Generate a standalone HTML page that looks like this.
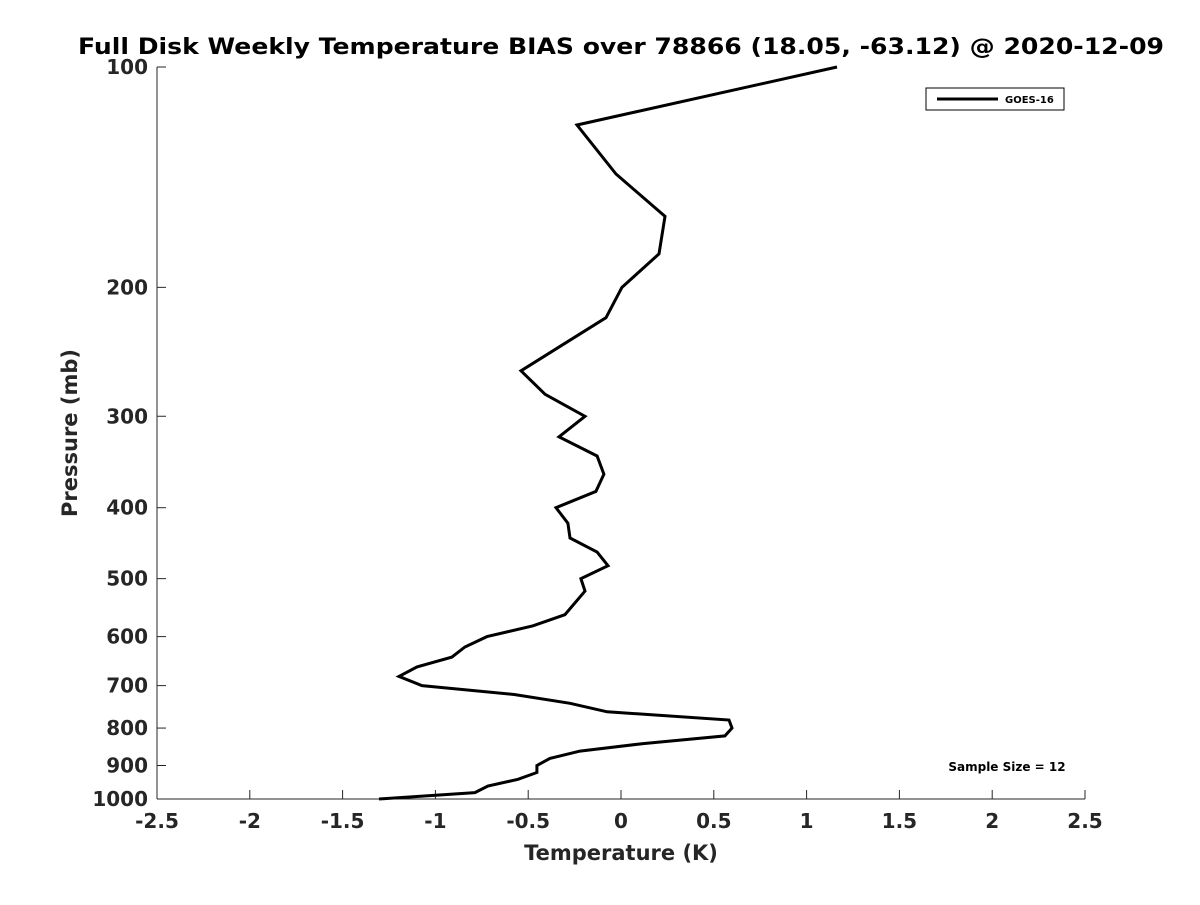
<!DOCTYPE html>
<html><head><meta charset="utf-8"><style>
html,body{margin:0;padding:0;background:#fff;}
svg text{font-family:"DejaVu Sans","Liberation Sans",sans-serif;font-weight:bold;fill:#262626;}
</style></head><body>
<svg id="chart" width="1200" height="900" xmlns="http://www.w3.org/2000/svg">
<rect width="1200" height="900" fill="#fff"/>
<text x="621" y="54" text-anchor="middle" font-size="22" textLength="1086" lengthAdjust="spacingAndGlyphs" style="fill:#000">Full Disk Weekly Temperature BIAS over 78866 (18.05, -63.12) @ 2020-12-09</text>
<g id="axes"></g>
<g id="series"></g>
<g>
<rect x="926" y="88" width="138" height="22" fill="#fff" stroke="#000" stroke-width="1"/>
<line x1="937" y1="99" x2="998" y2="99" stroke="#000" stroke-width="3"/>
<text x="1005" y="103" font-size="10" style="fill:#000">GOES-16</text>
</g>
<text x="1007" y="771" text-anchor="middle" font-size="12" style="fill:#000">Sample Size = 12</text>
<text x="621" y="860" text-anchor="middle" font-size="21">Temperature (K)</text>
<text transform="translate(77,433) rotate(-90)" text-anchor="middle" font-size="21">Pressure (mb)</text>
</svg>
<script>
const xTicks = [-2.5,-2,-1.5,-1,-0.5,0,0.5,1,1.5,2,2.5];
const xTickLabels = ["-2.5","-2","-1.5","-1","-0.5","0","0.5","1","1.5","2","2.5"];
const yTicks = [100,200,300,400,500,600,700,800,900,1000];
const yTickLabels = ["100","200","300","400","500","600","700","800","900","1000"];
const pressures = [100,120,140,160,180,200,220,260,280,300,320,340,360,380,400,420,440,460,480,500,520,560,580,600,620,640,660,680,700,720,740,760,780,800,820,840,860,880,900,920,940,960,980,1000];
const biasGoes16 = [1.164,-0.237,-0.027,0.237,0.205,0.005,-0.081,-0.539,-0.409,-0.194,-0.334,-0.129,-0.092,-0.135,-0.350,-0.286,-0.275,-0.129,-0.070,-0.216,-0.194,-0.302,-0.474,-0.722,-0.841,-0.911,-1.099,-1.196,-1.072,-0.571,-0.275,-0.075,0.582,0.598,0.560,0.119,-0.221,-0.383,-0.453,-0.453,-0.555,-0.717,-0.787,-1.304];

const X0=157,X1=1085,Y0=67,Y1=799;
function xs(v){return X0+(v+2.5)/5*(X1-X0);}
function ys(p){return Y0+(Math.log10(p)-2)*(Y1-Y0);}
const NS="http://www.w3.org/2000/svg";
function mk(tag,attrs,parent){const e=document.createElementNS(NS,tag);for(const k in attrs)e.setAttribute(k,attrs[k]);parent.appendChild(e);return e;}
const axes=document.getElementById('axes');
const xl=mk('line',{x1:X0,y1:Y1,x2:X1,y2:Y1,stroke:'#262626','stroke-width':1},axes);


const yl=mk('line',{x1:X0,y1:Y0,x2:X0,y2:Y1,stroke:'#262626','stroke-width':1},axes);


xTicks.forEach((v,i)=>{
  const x=xs(v);
  const t=mk('line',{x1:x,y1:Y1,x2:x,y2:Y1-9,stroke:'#262626','stroke-width':1},axes);
  
  
  const l=mk('text',{x:x,y:Y1+29,'text-anchor':'middle','font-size':20},axes);
  l.textContent=xTickLabels[i];
  
  
});
yTicks.forEach((p,i)=>{
  const y=ys(p);
  const t=mk('line',{x1:X0,y1:y,x2:X0+9,y2:y,stroke:'#262626','stroke-width':1},axes);
  
  
  const l=mk('text',{x:X0-9,y:y+7,'text-anchor':'end','font-size':20},axes);
  l.textContent=yTickLabels[i];
  
  
});
const pts=pressures.map((p,i)=>xs(biasGoes16[i]).toFixed(1)+','+ys(p).toFixed(1)).join(' ');
const line=mk('polyline',{points:pts,fill:'none',stroke:'#000','stroke-width':3,'stroke-linejoin':'miter'},document.getElementById('series'));


</script>
</body></html>
